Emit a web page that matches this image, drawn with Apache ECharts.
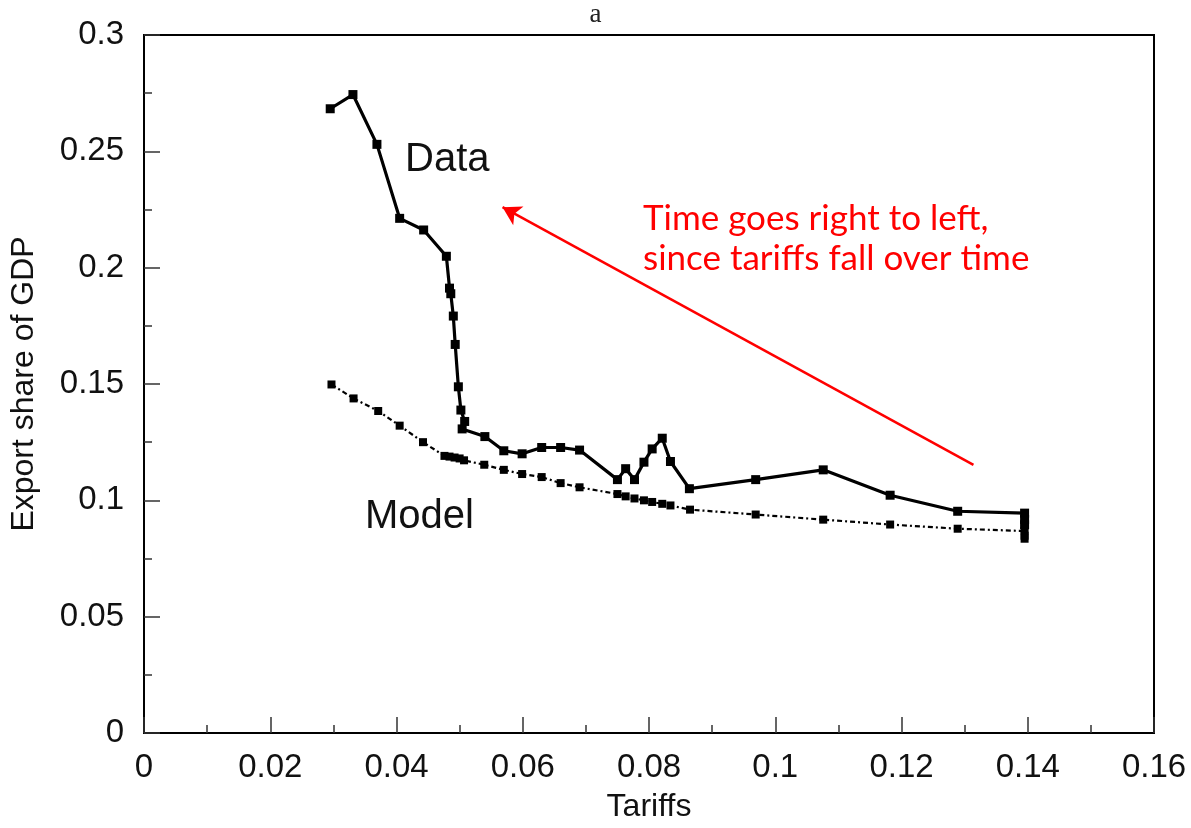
<!DOCTYPE html>
<html>
<head>
<meta charset="utf-8">
<script src="https://cdn.jsdelivr.net/npm/echarts@6/dist/echarts.min.js"></script>
<style>
  html, body { margin: 0; padding: 0; background: #fff; }
  #chart { width: 1191px; height: 828px; }
</style>
</head>
<body>
<div id="chart"></div>
<script>
// tariffs (x) and export share of GDP (y)
const dataTariffs = [0.0295, 0.0331, 0.0369, 0.0405, 0.0443, 0.0479, 0.0484, 0.0486, 0.0490, 0.0493, 0.0498,
  0.0502, 0.0508, 0.0504, 0.0540, 0.0570, 0.0599, 0.0630, 0.0660, 0.0690, 0.0750, 0.0763, 0.0777, 0.0792,
  0.0805, 0.0821, 0.0834, 0.0864, 0.0969, 0.1076, 0.1182, 0.1289, 0.1395, 0.1395, 0.1395]
const dataShare = [0.2683, 0.2744, 0.2530, 0.2212, 0.2162, 0.2049, 0.1912, 0.1888, 0.1792, 0.1670, 0.1488,
  0.1388, 0.1339, 0.1307, 0.1274, 0.1213, 0.1200, 0.1227, 0.1227, 0.1216, 0.1089, 0.1136, 0.1089, 0.1164,
  0.1221, 0.1267, 0.1167, 0.1050, 0.1089, 0.1131, 0.1022, 0.0953, 0.0945, 0.0918, 0.0895]

const modelTariffs = [0.0297, 0.0332, 0.0371, 0.0405, 0.0442, 0.0476, 0.0484, 0.0492, 0.0500, 0.0507, 0.0539,
  0.0570, 0.0599, 0.0630, 0.0660, 0.0690, 0.0750, 0.0763, 0.0777, 0.0792, 0.0805, 0.0821, 0.0834, 0.0865,
  0.0969, 0.1076, 0.1182, 0.1289, 0.1395, 0.1395, 0.1395]
const modelShare = [0.1498, 0.1438, 0.1384, 0.1321, 0.1250, 0.1191, 0.1188, 0.1184, 0.1180, 0.1172, 0.1153,
  0.1131, 0.1113, 0.1100, 0.1074, 0.1056, 0.1027, 0.1017, 0.1008, 0.1000, 0.0993, 0.0985, 0.0978, 0.0960,
  0.0939, 0.0917, 0.0896, 0.0878, 0.0868, 0.0848, 0.0835]

// arrow ends (tail -> head), in axis units
const arrowFrom = [0.1314, 0.1152]
const arrowTo = [0.0568, 0.2260]

const myChart = echarts.init(document.getElementById('chart'))

const font = 'Liberation Sans, Arial, sans-serif'

const option = {
  backgroundColor: '#fff',
  animation: false,
  title: {
    text: 'a',
    left: 'center',
    top: -4,
    textStyle: { fontFamily: 'Liberation Serif, serif', fontSize: 27, fontWeight: 'normal', color: '#222' }
  },
  grid: {
    left: 139,
    right: 37,
    top: 35,
    bottom: 92,
    show: true,
    borderColor: '#000',
    borderWidth: 2
  },
  xAxis: {
    type: 'value',
    min: 0,
    max: 0.16,
    interval: 0.02,
    name: 'Tariffs',
    nameLocation: 'middle',
    nameGap: 58,
    nameTextStyle: { fontFamily: font, fontSize: 32, color: '#111' },
    axisLine: { show: true, onZero: false, lineStyle: { color: '#000', width: 2 } },
    axisTick: { show: true, inside: true, length: 16, lineStyle: { color: '#333', width: 1.5 } },
    minorTick: { show: true, splitNumber: 2, length: 8, lineStyle: { color: '#333', width: 1.5 } },
    splitLine: { show: false },
    axisLabel: { fontFamily: font, fontSize: 33, color: '#111', margin: 18 }
  },
  yAxis: {
    type: 'value',
    min: 0,
    max: 0.3,
    interval: 0.05,
    name: 'Export share of GDP',
    nameLocation: 'middle',
    nameGap: 104,
    nameTextStyle: { fontFamily: font, fontSize: 32, color: '#111' },
    axisLine: { show: true, lineStyle: { color: '#000', width: 2 } },
    axisTick: { show: true, inside: true, length: 16, lineStyle: { color: '#333', width: 1.5 } },
    minorTick: { show: true, splitNumber: 2, length: 8, lineStyle: { color: '#333', width: 1.5 } },
    splitLine: { show: false },
    axisLabel: { fontFamily: font, fontSize: 33, color: '#111', margin: 20 }
  },
  graphic: [
    { type: 'text', left: 405, top: 140, style: { text: 'Data', font: '40px Liberation Sans, Arial, sans-serif', fill: '#111' } },
    { type: 'text', left: 365, top: 497, style: { text: 'Model', font: '40px Liberation Sans, Arial, sans-serif', fill: '#111' } },
    {
      type: 'text',
      left: 643,
      top: 199,
      style: {
        text: 'Time goes right to left,\nsince tariffs fall over time',
        font: '35px Lato, sans-serif',
        lineHeight: 40,
        fill: '#ff0000'
      }
    }
  ],
  series: [
    {
      name: 'Data',
      type: 'line',
      data: dataTariffs.map((t, i) => [t, dataShare[i]]),
      symbol: 'rect',
      symbolSize: 9,
      itemStyle: { color: '#000' },
      lineStyle: { color: '#000', width: 3.2 },
      z: 3,
      markLine: {
        silent: true,
        symbol: ['none', 'arrow'],
        symbolSize: [16, 18],
        label: { show: false },
        lineStyle: { color: '#ff0000', width: 2.5, type: 'solid' },
        data: [[{ coord: arrowFrom }, { coord: arrowTo }]]
      }
    },
    {
      name: 'Model',
      type: 'line',
      data: modelTariffs.map((t, i) => [t, modelShare[i]]),
      symbol: 'rect',
      symbolSize: 8,
      itemStyle: { color: '#000' },
      lineStyle: { color: '#000', width: 2.2, type: [5, 3, 2, 3] },
      z: 2
    }
  ]
}

myChart.setOption(option)
window.addEventListener('resize', () => {
  myChart.resize()
})
</script>
</body>
</html>
